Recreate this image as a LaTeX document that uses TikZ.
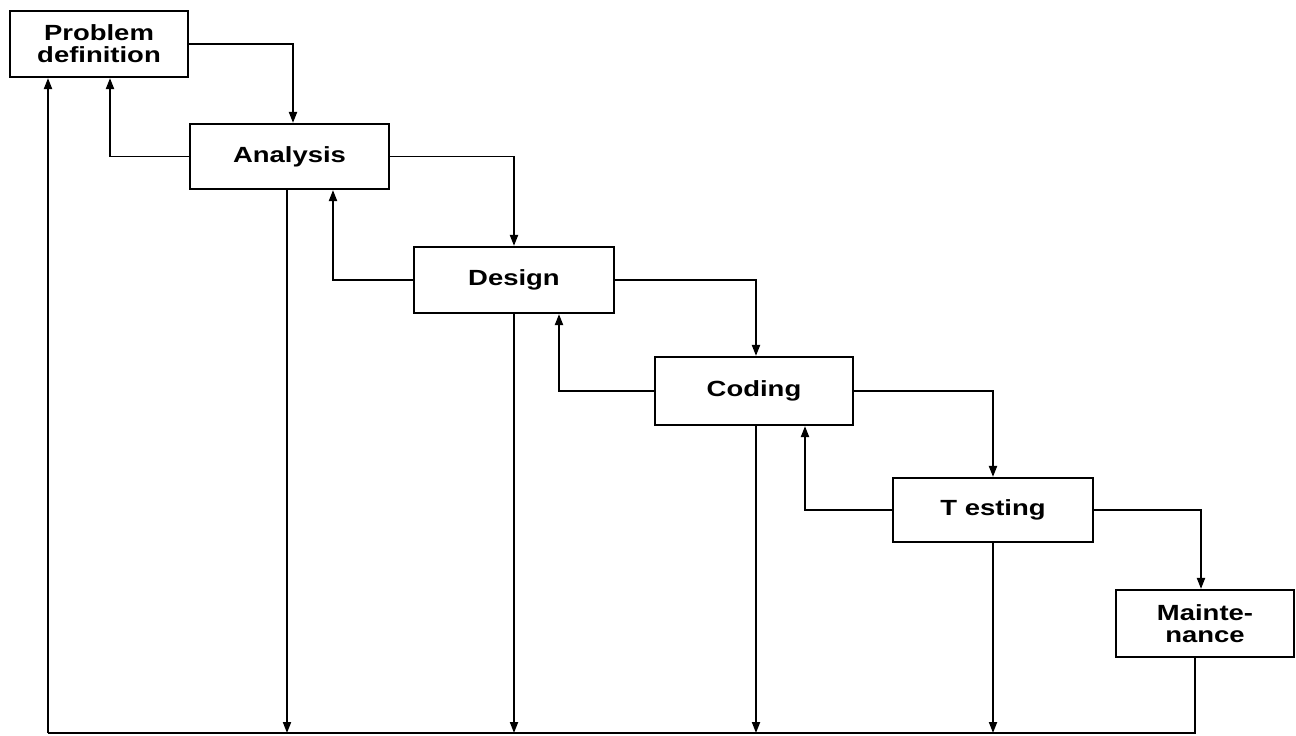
\documentclass[tikz,border=0pt]{standalone}
\usepackage{fontspec}
\newfontfamily\labfont[FakeStretch=1.25]{Liberation Sans}
\usetikzlibrary{arrows.meta}
\tikzset{
  box/.style={draw, line width=1.2pt, fill=white, inner sep=0pt, align=center,
    font=\labfont\bfseries\fontsize{12.5}{12.5}\selectfont},
  conn/.style={line width=1.1pt},
  arr/.style={conn, -{Triangle[length=0.22cm,width=0.16cm]}}
}
\begin{document}
\begin{tikzpicture}[x=0.02cm,y=-0.02cm]
\useasboundingbox (0,0) rectangle (1296,736);
\node[box, minimum width=3.56cm, minimum height=1.32cm] (pd) at (99,44) {Problem\\definition};
\node[box, minimum width=3.98cm, minimum height=1.30cm] (an) at (289.5,156.5) {Analysis};
\node[box, minimum width=4.00cm, minimum height=1.32cm] (ds) at (514,280) {Design};
\node[box, minimum width=3.96cm, minimum height=1.36cm] (cd) at (754,391) {Coding};
\node[box, minimum width=4.00cm, minimum height=1.28cm] (ts) at (993,510) {T esting};
\node[box, minimum width=3.56cm, minimum height=1.34cm] (mt) at (1205,623.5) {Mainte-\\nance};
\coordinate (bl) at (48,733);
\coordinate (br) at (1195,733);
% forward arrows
\draw[arr] (pd.east) -| ([xshift=0.07cm]an.north);
\draw[arr] (an.east) -| (ds.north);
\draw[arr] (ds.east) -| ([xshift=0.04cm]cd.north);
\draw[arr] (cd.east) -| (ts.north);
\draw[arr] (ts.east) -| ([xshift=-0.08cm]mt.north);
% feedback arrows
\draw[arr] (an.west) -| ([xshift=0.22cm]pd.south);
\draw[arr] (ds.west) -| ([xshift=0.87cm]an.south);
\draw[arr] (cd.west) -| ([xshift=0.90cm]ds.south);
\draw[arr] (ts.west) -| ([xshift=1.02cm]cd.south);
% down lines
\draw[arr] ([xshift=-0.05cm]an.south) -- ([xshift=-0.05cm]an.south |- bl);
\draw[arr] (ds.south) -- (ds.south |- bl);
\draw[arr] ([xshift=0.04cm]cd.south) -- ([xshift=0.04cm]cd.south |- bl);
\draw[arr] (ts.south) -- (ts.south |- bl);
\draw[conn, line width=1.4pt] (br |- mt.south) -- (br) -- (bl);
\draw[arr] (bl) -- (bl |- pd.south);
\end{tikzpicture}
\end{document}
